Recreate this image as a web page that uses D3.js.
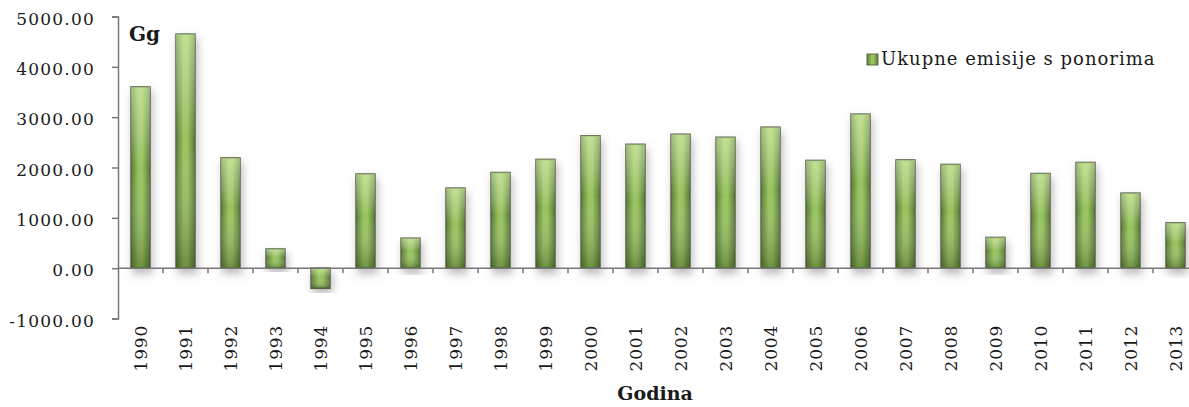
<!DOCTYPE html>
<html>
<head>
<meta charset="utf-8">
<script src="https://cdn.jsdelivr.net/npm/d3@7"></script>
<style>
  body { margin: 0; background: #fff; }
  svg { display: block; }
  text { font-family: 'DejaVu Serif', 'Liberation Serif', serif; fill: #1a1a1a; }
</style>
</head>
<body>
<script>
// data (Gg)
const years = ['1990', '1991', '1992', '1993', '1994', '1995', '1996', '1997', '1998', '1999', '2000', '2001',
  '2002', '2003', '2004', '2005', '2006', '2007', '2008', '2009', '2010', '2011', '2012', '2013'];
const emissions = [3600, 4650, 2190, 380, -400, 1870, 595, 1590, 1900, 2160, 2630, 2460,
  2660, 2600, 2800, 2140, 3060, 2150, 2060, 610, 1880, 2100, 1490, 900];
const yTicks = [-1000, 0, 1000, 2000, 3000, 4000, 5000];
const seriesName = 'Ukupne emisije s ponorima';
const yUnit = 'Gg';
const xTitle = 'Godina';

const width = 1189;
const height = 407;

const data = years.map((y, i) => ({ year: y, value: emissions[i] }));

const x = d3.scaleBand()
  .domain(years)
  .range([118, 1198])
  .paddingInner(0.58)
  .paddingOuter(0.29);

const y = d3.scaleLinear()
  .domain([-1000, 5000])
  .range([318.5, 16.5]);

const svg = d3.select('body').append('svg')
  .attr('width', width)
  .attr('height', height);

const defs = svg.append('defs');

// horizontal shading: darker edges, light middle
const gh = defs.append('linearGradient').attr('id', 'barH')
  .attr('x1', '0%').attr('x2', '100%').attr('y1', '0%').attr('y2', '0%');
gh.append('stop').attr('offset', '0%').attr('stop-color', '#587a33');
gh.append('stop').attr('offset', '40%').attr('stop-color', '#98c25e');
gh.append('stop').attr('offset', '60%').attr('stop-color', '#98c25e');
gh.append('stop').attr('offset', '100%').attr('stop-color', '#587a33');

// vertical overlay: lighter top, darker bottom
const gv = defs.append('linearGradient').attr('id', 'barV')
  .attr('x1', '0%').attr('x2', '0%').attr('y1', '0%').attr('y2', '100%');
gv.append('stop').attr('offset', '0%').attr('stop-color', '#eaffc4').attr('stop-opacity', 0.5);
gv.append('stop').attr('offset', '45%').attr('stop-color', '#ffffff').attr('stop-opacity', 0);
gv.append('stop').attr('offset', '100%').attr('stop-color', '#243a0c').attr('stop-opacity', 0.38);

const shadow = defs.append('filter').attr('id', 'shadow')
  .attr('x', '-50%').attr('y', '-20%').attr('width', '200%').attr('height', '140%');
shadow.append('feDropShadow')
  .attr('dx', 2).attr('dy', 5).attr('stdDeviation', 4)
  .attr('flood-color', '#777').attr('flood-opacity', 0.5);

// bars
const bars = svg.append('g').selectAll('g')
  .data(data)
  .join('g');

bars.append('rect')
  .attr('x', d => x(d.year))
  .attr('y', d => y(Math.max(0, d.value)))
  .attr('width', x.bandwidth())
  .attr('height', d => Math.abs(y(d.value) - y(0)))
  .attr('fill', 'url(#barH)')
  .attr('stroke', '#5b6a47')
  .attr('stroke-width', 1.6)
  .attr('filter', 'url(#shadow)');

bars.append('rect')
  .attr('x', d => x(d.year))
  .attr('y', d => y(Math.max(0, d.value)))
  .attr('width', x.bandwidth())
  .attr('height', d => Math.abs(y(d.value) - y(0)))
  .attr('fill', 'url(#barV)');

// y axis
const fmt = d3.format('.2f');
const yAxis = svg.append('g')
  .attr('transform', 'translate(118,0)')
  .call(d3.axisLeft(y).tickValues(yTicks).tickSize(6)
    .tickFormat(d => fmt(d).replace('\u2212', '-')));
yAxis.select('.domain').attr('stroke', '#777').attr('stroke-width', 1.5);
yAxis.selectAll('.tick line').attr('stroke', '#777').attr('stroke-width', 1.5);
yAxis.selectAll('.tick text')
  .attr('x', -23)
  .attr('dy', '0.45em')
  .style('font-size', '17px')
  .style('letter-spacing', '1.2px')
  .style('font-family', "'DejaVu Serif', serif")
  .attr('fill', '#222');

// x axis line at zero with ticks between categories
const xAxisG = svg.append('g').attr('transform', `translate(0,${y(0)})`);
xAxisG.append('line')
  .attr('x1', 118).attr('x2', 1198)
  .attr('stroke', '#777').attr('stroke-width', 1.5);
xAxisG.selectAll('.sep')
  .data(years)
  .join('line')
  .attr('class', 'sep')
  .attr('x1', d => x(d) - x.step() * x.paddingInner() / 2 + x.step())
  .attr('x2', d => x(d) - x.step() * x.paddingInner() / 2 + x.step())
  .attr('y1', 0).attr('y2', 5)
  .attr('stroke', '#777').attr('stroke-width', 1.5);

// year labels, rotated
svg.append('g').selectAll('text')
  .data(years)
  .join('text')
  .attr('transform', d => `translate(${x(d) + x.bandwidth() / 2 + 6},325) rotate(-90)`)
  .attr('text-anchor', 'end')
  .style('font-size', '17px')
  .style('letter-spacing', '0.8px')
  .text(d => d);

// axis titles
svg.append('text')
  .attr('x', 129).attr('y', 41)
  .style('font-size', '20px')
  .style('font-weight', 'bold')
  .text(yUnit);

svg.append('text')
  .attr('x', 655).attr('y', 400)
  .attr('text-anchor', 'middle')
  .style('font-size', '19px')
  .style('font-weight', 'bold')
  .text(xTitle);

// legend
const legend = svg.append('g').attr('transform', 'translate(867,65)');
legend.append('rect')
  .attr('x', 0).attr('y', -11)
  .attr('width', 11).attr('height', 11)
  .attr('fill', 'url(#barH)')
  .attr('stroke', '#5b6a47')
  .attr('stroke-width', 1);
legend.append('text')
  .attr('x', 14).attr('y', 0)
  .style('font-size', '18px')
  .style('letter-spacing', '1px')
  .text(seriesName);
</script>
</body>
</html>
